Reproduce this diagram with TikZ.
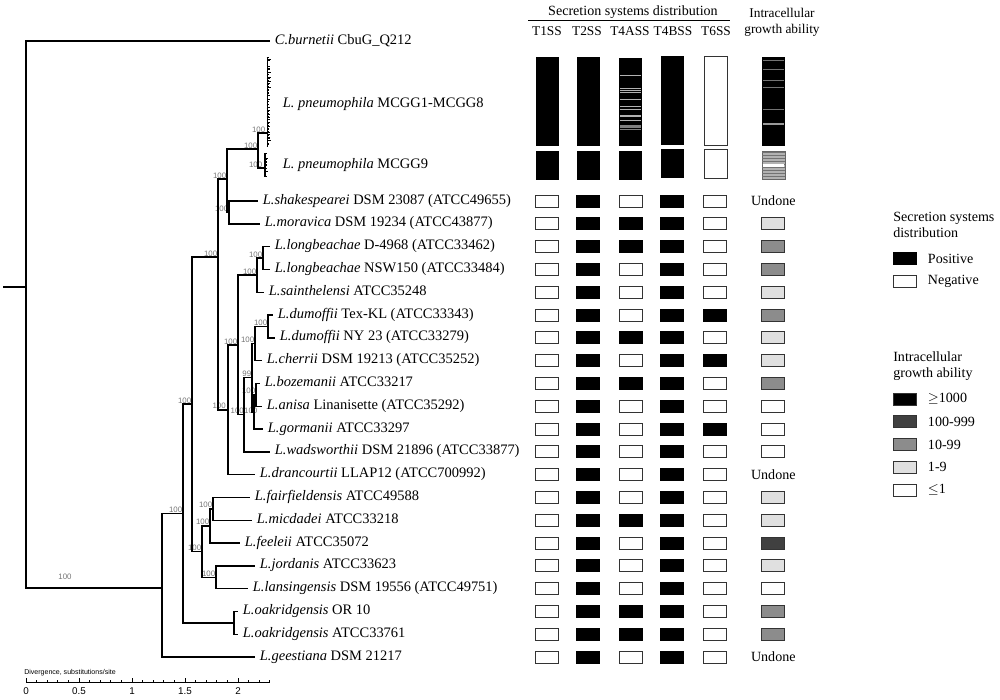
\documentclass[tikz,border=0pt]{standalone}
\usepackage{fontspec}
\setmainfont{Liberation Serif}
\setsansfont{Liberation Sans}
\usetikzlibrary{positioning}
\begin{document}
\begin{tikzpicture}[x=0.025cm, y=-0.025cm]
    % Define Styles
        \tikzstyle{branch} = [
            draw,
            line width = 1pt,
            line cap = rect
        ]
        \tikzstyle{taxon} = [
            anchor = west,
            inner sep = 0pt,
            text height = 7pt,
            text depth = 2.5pt,
            font = \fontsize{10.3}{12}\selectfont
        ]
        \tikzstyle{boot} = [
            inner sep = 0.4pt,
            text = black!55,
            font = \fontsize{5.6}{6}\sffamily
        ]
        \tikzstyle{head} = [
            align = center,
            inner sep = 0pt,
            font = \fontsize{9.5}{11.3}\selectfont
        ]
        \tikzstyle{cell} = [
            rectangle,
            draw = black!80,
            line width = 0.7pt,
            inner sep = 0pt,
            minimum width = 0.575cm,
            minimum height = 0.3cm
        ]
        \tikzstyle{cell0} = [cell, fill = white]
        \tikzstyle{cell1} = [cell, fill = black, draw = black]
        \tikzstyle{growu} = [draw = none, inner sep = 0pt, font = \fontsize{10}{12}\selectfont]
        \tikzstyle{groww} = [cell, fill = white]
        \tikzstyle{growl} = [cell, fill = black!12]
        \tikzstyle{growm} = [cell, fill = black!45]
        \tikzstyle{growd} = [cell, fill = black!75]
        \tikzstyle{key} = [
            anchor = west,
            inner sep = 0pt,
            align = left,
            font = \fontsize{10}{11.5}\selectfont
        ]
    \useasboundingbox (0,0) rectangle (1000,699);
    % Place nodes
        % internal nodes of the tree
        \coordinate (root) at (4,287);
        \coordinate (n-base) at (26,287);
        \coordinate (n-leg) at (162,588);
        \coordinate[label={[boot]above left:100}] (n-a) at (183,513.4);
        \coordinate (n-oak) at (234,622.8);
        \coordinate[label={[boot]above left:100}] (n-b) at (192,404);
        \coordinate[label={[boot]above left:100}] (n-c) at (218,257);
        \coordinate[label={[boot]above left:100}] (n-d) at (202,551.5);
        \coordinate[label={[boot]above left:100}] (n-mic3) at (210,525.9);
        \coordinate[label={[boot]above left:100}] (n-mic2) at (213,508.8);
        \coordinate[label={[boot]above left:100}] (n-jor) at (216,577.2);
        \coordinate[label={[boot]above left:100}] (n-e) at (227,179);
        \coordinate[label={[boot]above left:100}] (n-pn) at (258,149);
        \coordinate[label={[boot]above left:100}] (n-pn8) at (266,133);
        \coordinate[label={[boot]above left:100}] (n-pn9) at (263,168);
        \coordinate[label={[boot]above left:100}] (n-sm) at (229,212.4);
        \coordinate[label={[boot,xshift=-1pt]above left:100}] (n-f) at (228,409.8);
        \coordinate[label={[boot]above left:100}] (n-g) at (238,345);
        \coordinate[label={[boot]above left:100}] (n-lb) at (257,275.1);
        \coordinate[label={[boot]above left:100}] (n-lbp) at (263,258);
        \coordinate[label={[boot,xshift=0.5pt]above left:100}] (n-h) at (244,414.75);
        \coordinate[label={[boot]above left:99}] (n-i) at (252,377.7);
        \coordinate[label={[boot]above left:100}] (n-j) at (255,343.5);
        \coordinate[label={[boot]above left:100}] (n-du) at (268,326.4);
        \coordinate[label={[boot,xshift=3pt,yshift=-2pt]above left:100}] (n-k) at (254,411.9);
        \coordinate[label={[boot]above left:100}] (n-ba) at (256,394.8);
        \node[boot] (b-leg) at (65,577) {100};
        % tips
        \coordinate (cbur) at (269,41);
        \coordinate (pn8) at (277,104);
        \coordinate (pn9) at (277,165);
        \coordinate (shk) at (257,201);
        \coordinate (mor) at (259,223.8);
        \coordinate (lb1) at (269,246.6);
        \coordinate (lb2) at (269,269.4);
        \coordinate (sai) at (263,292.2);
        \coordinate (du1) at (272,315);
        \coordinate (du2) at (274,337.8);
        \coordinate (che) at (261,360.6);
        \coordinate (boz) at (259,383.4);
        \coordinate (ani) at (261,406.2);
        \coordinate (gor) at (262,429);
        \coordinate (wad) at (269,451.8);
        \coordinate (dra) at (254,474.6);
        \coordinate (fai) at (249,497.4);
        \coordinate (mic) at (251,520.2);
        \coordinate (fee) at (239,543);
        \coordinate (jor) at (254,565.8);
        \coordinate (lan) at (247,588.6);
        \coordinate (oa1) at (237,611.4);
        \coordinate (oa2) at (237,634.2);
        \coordinate (gee) at (254,657);
        % taxon names
        \node[taxon, right=4pt of cbur] (l-cbur) {\textit{C.burnetii} CbuG\_Q212};
        \node[taxon, right=4pt of pn8] (l-pn8) {\textit{L. pneumophila} MCGG1-MCGG8};
        \node[taxon, right=4pt of pn9] (l-pn9) {\textit{L. pneumophila} MCGG9};
        \node[taxon, right=4pt of shk] (l-shk) {\textit{L.shakespearei} DSM 23087 (ATCC49655)};
        \node[taxon, right=4pt of mor] (l-mor) {\textit{L.moravica} DSM 19234 (ATCC43877)};
        \node[taxon, right=4pt of lb1] (l-lb1) {\textit{L.longbeachae} D-4968 (ATCC33462)};
        \node[taxon, right=4pt of lb2] (l-lb2) {\textit{L.longbeachae} NSW150 (ATCC33484)};
        \node[taxon, right=4pt of sai] (l-sai) {\textit{L.sainthelensi} ATCC35248};
        \node[taxon, right=4pt of du1] (l-du1) {\textit{L.dumoffii} Tex-KL (ATCC33343)};
        \node[taxon, right=4pt of du2] (l-du2) {\textit{L.dumoffii} NY 23 (ATCC33279)};
        \node[taxon, right=4pt of che] (l-che) {\textit{L.cherrii} DSM 19213 (ATCC35252)};
        \node[taxon, right=4pt of boz] (l-boz) {\textit{L.bozemanii} ATCC33217};
        \node[taxon, right=4pt of ani] (l-ani) {\textit{L.anisa} Linanisette (ATCC35292)};
        \node[taxon, right=4pt of gor] (l-gor) {\textit{L.gormanii} ATCC33297};
        \node[taxon, right=4pt of wad] (l-wad) {\textit{L.wadsworthii} DSM 21896 (ATCC33877)};
        \node[taxon, right=4pt of dra] (l-dra) {\textit{L.drancourtii} LLAP12 (ATCC700992)};
        \node[taxon, right=4pt of fai] (l-fai) {\textit{L.fairfieldensis} ATCC49588};
        \node[taxon, right=4pt of mic] (l-mic) {\textit{L.micdadei} ATCC33218};
        \node[taxon, right=4pt of fee] (l-fee) {\textit{L.feeleii} ATCC35072};
        \node[taxon, right=4pt of jor] (l-jor) {\textit{L.jordanis} ATCC33623};
        \node[taxon, right=4pt of lan] (l-lan) {\textit{L.lansingensis} DSM 19556 (ATCC49751)};
        \node[taxon, right=4pt of oa1] (l-oa1) {\textit{L.oakridgensis} OR 10};
        \node[taxon, right=4pt of oa2] (l-oa2) {\textit{L.oakridgensis} ATCC33761};
        \node[taxon, right=4pt of gee] (l-gee) {\textit{L.geestiana} DSM 21217};
    % Draw edges
        \draw[branch] (root) -- (n-base);
        \foreach \p/\c in {n-base/cbur, n-base/n-leg, n-leg/n-a, n-leg/gee,
                n-a/n-b, n-a/n-oak, n-oak/oa1, n-oak/oa2, n-b/n-c, n-b/n-d,
                n-d/n-mic3, n-d/n-jor, n-mic3/n-mic2, n-mic3/fee, n-mic2/fai,
                n-mic2/mic, n-jor/jor, n-jor/lan, n-c/n-e, n-c/n-f, n-e/n-pn,
                n-e/n-sm, n-pn/n-pn8, n-pn/n-pn9, n-sm/shk, n-sm/mor, n-f/n-g,
                n-f/dra, n-g/n-lb, n-g/n-h, n-lb/n-lbp, n-lb/sai, n-lbp/lb1,
                n-lbp/lb2, n-h/n-i, n-h/wad, n-i/n-j, n-i/n-k, n-j/n-du,
                n-j/che, n-du/du1, n-du/du2, n-k/n-ba, n-k/gor, n-ba/boz,
                n-ba/ani}
            \draw[branch] (\p) |- (\c);
        % the many pneumophila strains
        \pgfmathsetseed{7}
        \draw[line width=1pt] (267.5,57) -- (267.5,147);
        \draw[line width=1pt] (265,153) -- (265,177);
        \foreach \k in {0,...,59}
            \draw[line width=0.6pt] ({266.5+rnd},{57.5+1.5*\k}) -- ++({1+2.5*rnd},0);
        \foreach \k in {0,...,15}
            \draw[line width=0.6pt] ({264+rnd},{153.5+1.5*\k}) -- ++({1+2*rnd},0);
    % Scale bar
        \node[anchor=west, inner sep=0pt, font=\fontsize{5}{6}\sffamily] (sc-title) at (24,673) {Divergence, substitutions/site};
        \draw[line width=0.7pt] (26,682) -- (270,682);
        \foreach \t in {0,...,23}
            \draw[line width=0.6pt] ({26+10.6*\t},682) -- ++(0,-2.5);
        \foreach \t/\v in {0/0, 1/0.5, 2/1, 3/1.5, 4/2} {
            \draw[line width=0.6pt] ({26+53*\t},682) -- ++(0,-4);
            \node[inner sep=0pt, font=\fontsize{7}{8}\sffamily] (sc-\t) at ({26+53*\t},691) {\v};
        }
    % Header
        \node[head, font=\fontsize{10}{12}\selectfont] (h-sec) at (633,12) {Secretion systems distribution};
        \draw[line width=0.8pt] (528,20.5) -- (730,20.5);
        \foreach \x/\n in {547/T1SS, 587/T2SS, 630/T4ASS, 673/T4BSS, 716/T6SS}
            \node[head] (h-\n) at (\x,31) {\n};
        \node[head] (h-grow) at (782,22) {Intracellular\\growth ability};
    % MCGG bars
        \fill (536,57) rectangle (559,146);
        \fill (536,151) rectangle (559,180);
        \fill (577,57) rectangle (600,146);
        \fill (577,151) rectangle (600,180);
        \fill (619,58) rectangle (642,146);
        \fill (619,151) rectangle (642,180);
        \foreach \s in {75, 88.3, 90.7, 92.7, 99, 106.7, 109, 115, 116.7, 120}
            \draw[black!30, line width=0.6pt] (620,\s) -- (641,\s);
        \foreach \s in {126, 127.7, 129.3}
            \draw[black!50, line width=0.8pt] (620,\s) -- (641,\s);
        \fill (661,56) rectangle (684,145);
        \fill (661,149) rectangle (684,178);
        \draw[black!80, line width=0.7pt] (704,56) rectangle (727,145);
        \draw[black!80, line width=0.7pt] (704,149) rectangle (727,178);
        \fill (762,57) rectangle (785,146);
        \foreach \s in {60, 69.3, 80, 87.3, 109.3}
            \draw[black!55, line width=0.6pt] (763,\s) -- (784,\s);
        \draw[black!40, line width=1.2pt] (763,124) -- (784,124);
        \filldraw[fill=black!30, draw=black!60, line width=0.5pt] (762,151) rectangle (785,179);
        \foreach \s in {152.5, 155.5, ..., 178}
            \draw[black!55, line width=0.5pt] (762,\s) -- (785,\s);
        \fill[white] (763,163.5) rectangle (784,166.5);
    % Row cells
        \foreach \y/\a/\b/\c/\d/\e/\g [count=\i] in {
                201/0/1/0/1/0/u, 223.8/0/1/1/1/0/l, 246.6/0/1/1/1/0/m,
                269.4/0/1/0/1/0/m, 292.2/0/1/0/1/0/l, 315/0/1/0/1/1/m,
                337.8/0/1/1/1/0/l, 360.6/0/1/0/1/1/l, 383.4/0/1/1/1/0/m,
                406.2/0/1/0/1/0/w, 429/0/1/0/1/1/w, 451.8/0/1/0/1/0/w,
                474.6/0/1/0/1/0/u, 497.4/0/1/0/1/0/l, 520.2/0/1/1/1/0/l,
                543/0/1/0/1/0/d, 565.8/0/1/0/1/0/l, 588.6/0/1/0/1/0/w,
                611.4/0/1/1/1/0/m, 634.2/0/1/1/1/0/m, 657/0/1/0/1/0/u} {
            \node[cell\a] (c1-\i) at (547.2,\y) {};
            \node[cell\b] (c2-\i) at (587.7,\y) {};
            \node[cell\c] (c3-\i) at (630.8,\y) {};
            \node[cell\d] (c4-\i) at (672.3,\y) {};
            \node[cell\e] (c5-\i) at (715.2,\y) {};
            \node[grow\g] (g-\i) at (773.3,\y) {\if\g uUndone\fi};
        }
    % Legend
        \node[key] (k-sec) at (893,225) {Secretion systems\\distribution};
        \node[cell1] (k-pos) at (904.5,258.5) {};
        \node[key, right=16.5pt of k-pos.center] (k-pos-t) {Positive};
        \node[cell0] (k-neg) at (904.5,281.5) {};
        \node[key, right=16.5pt of k-neg.center] (k-neg-t) {Negative};
        \node[key] (k-grow) at (893,366) {Intracellular\\growth ability};
        \node[cell, fill=black] (k-g1) at (904.5,399) {};
        \node[cell, fill=black!75] (k-g2) at (904.5,421.8) {};
        \node[growm] (k-g3) at (904.5,444.6) {};
        \node[growl] (k-g4) at (904.5,467.4) {};
        \node[groww] (k-g5) at (904.5,490.2) {};
        \node[key, right=16.5pt of k-g1.center] (k-g1-t) {$\geq$1000};
        \node[key, right=16.5pt of k-g2.center] (k-g2-t) {100-999};
        \node[key, right=16.5pt of k-g3.center] (k-g3-t) {10-99};
        \node[key, right=16.5pt of k-g4.center] (k-g4-t) {1-9};
        \node[key, right=16.5pt of k-g5.center] (k-g5-t) {$\leq$1};
\end{tikzpicture}
\end{document}
